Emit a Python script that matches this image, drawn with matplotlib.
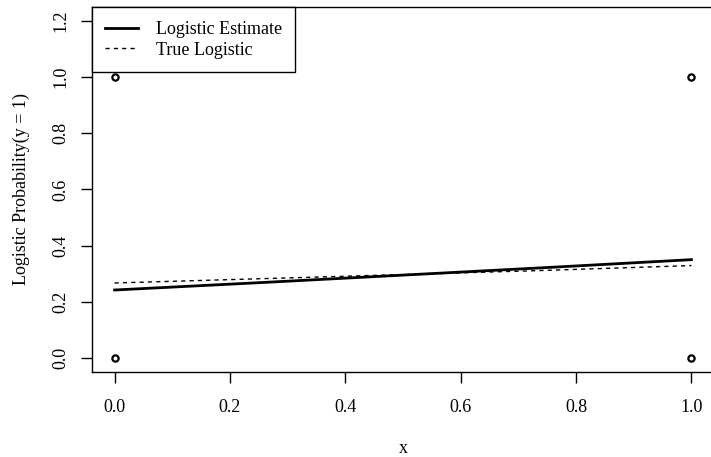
import matplotlib
matplotlib.use("Agg")
import matplotlib.pyplot as plt

# observed data (binary outcome)
obs_x = [0, 0, 1, 1]
obs_y = [0, 1, 0, 1]

# fitted and true logistic curves
curve_x = [0.0, 0.25, 0.5, 0.75, 1.0]
est_y = [0.242, 0.268, 0.295, 0.322, 0.350]
true_y = [0.267, 0.282, 0.297, 0.312, 0.329]

x_ticks = [0.0, 0.2, 0.4, 0.6, 0.8, 1.0]
y_ticks = [0.0, 0.2, 0.4, 0.6, 0.8, 1.0, 1.2]

plt.rcParams["font.family"] = ["Liberation Serif", "DejaVu Serif"]
FS = 13

W, H = 711, 457
fig = plt.figure(figsize=(W / 100, H / 100), dpi=100)
left, right, top, bottom = 91.5, 714.5, 7.3, 371.5
ax = fig.add_axes([left / W, 1 - bottom / H, (right - left) / W, (bottom - top) / H])

ax.plot(obs_x, obs_y, "o", mfc="none", mec="black", ms=4.5, mew=1.6, zorder=3)
ax.plot(curve_x, est_y, "-", color="black", lw=2.0, label="Logistic Estimate")
ax.plot(curve_x, true_y, "--", color="black", lw=1.0, dashes=(3, 3),
        label="True Logistic")

ax.set_xlim(-0.04, 1.04)
ax.set_ylim(-0.048, 1.248)
ax.set_xticks(x_ticks)
ax.set_yticks(y_ticks)
ax.set_xticklabels([f"{v:.1f}" for v in x_ticks])
ax.set_yticklabels([f"{v:.1f}" for v in y_ticks], rotation=90, va="center")
ax.tick_params(length=8, width=1, labelsize=FS)
ax.tick_params(axis="x", pad=12)
ax.tick_params(axis="y", pad=8)
for s in ax.spines.values():
    s.set_linewidth(1)

ax.set_xlabel("x", fontsize=FS, labelpad=17)
ax.set_ylabel("Logistic Probability(y = 1)", fontsize=FS, labelpad=16)

leg = ax.legend(loc="upper left", borderaxespad=0, fancybox=False,
                edgecolor="black", framealpha=1, fontsize=FS,
                handlelength=1.85, handletextpad=0.95, borderpad=0.75,
                labelspacing=0.22)
leg.get_frame().set_linewidth(1)

fig.savefig("out.png", dpi=100)
